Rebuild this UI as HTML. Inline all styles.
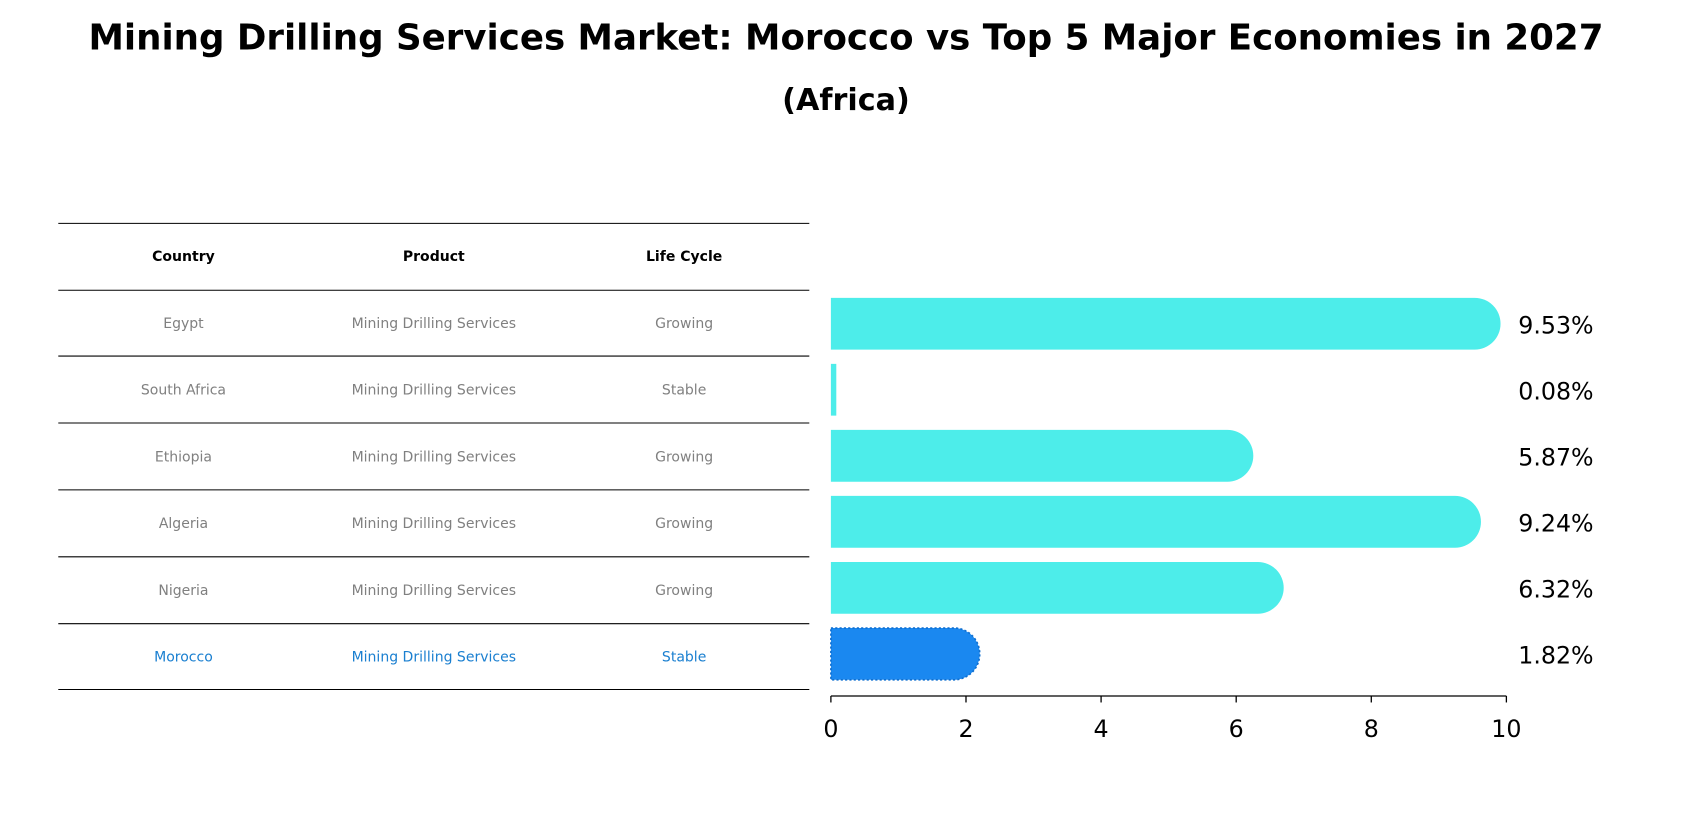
<!DOCTYPE html>
<html><head><meta charset="utf-8"><style>
html,body{margin:0;padding:0;background:#fff;}
svg{display:block;font-family:"DejaVu Sans","Liberation Sans",sans-serif;}
</style></head><body>
<svg id="chart" width="1692" height="823" viewBox="0 0 1568 762.7" xmlns="http://www.w3.org/2000/svg">
<text x="784" y="46" text-anchor="middle" font-size="33" font-weight="bold">Mining Drilling Services Market: Morocco vs Top 5 Major Economies in 2027</text>
<text x="784" y="102" text-anchor="middle" font-size="28" font-weight="bold">(Africa)</text>
<g id="table"></g>
<g id="bars"></g>
<g id="axis"></g>
</svg>
<script>
const countries = ["Egypt","South Africa","Ethiopia","Algeria","Nigeria","Morocco"];
const products = ["Mining Drilling Services","Mining Drilling Services","Mining Drilling Services","Mining Drilling Services","Mining Drilling Services","Mining Drilling Services"];
const lifeCycles = ["Growing","Stable","Growing","Growing","Growing","Stable"];
const values = [9.53,0.08,5.87,9.24,6.32,1.82];
const xTicks = [0,2,4,6,8,10];

const NS="http://www.w3.org/2000/svg";
function mk(tag,attrs,parent){const e=document.createElementNS(NS,tag);for(const k in attrs)e.setAttribute(k,attrs[k]);parent.appendChild(e);return e;}
const x0=770,x1=1396,xMax=10;
const xs=v=>x0+(v/xMax)*(x1-x0);
const rowY=i=>300+i*61.2;
const barH=48;

const table=document.getElementById('table');
const lineYs=[207,269,330,392,454,516,578,639];
lineYs.forEach(y=>{const l=mk('line',{x1:54,x2:750,y1:y,y2:y,stroke:'#000','stroke-width':1},table);

});
const colX=[170,402,634];
["Country","Product","Life Cycle"].forEach((h,j)=>{const t=mk('text',{x:colX[j],y:242,'text-anchor':'middle','font-size':13,'font-weight':'bold'},table);t.textContent=h;

});
countries.forEach((c,i)=>{const col=c==="Morocco"?'#1a7fd0':'#808080';
[c,products[i],lifeCycles[i]].forEach((s,j)=>{const t=mk('text',{x:colX[j],y:(lineYs[i+1]+lineYs[i+2])/2+4.5,'text-anchor':'middle','font-size':13,fill:col},table);t.textContent=s;

});});

const bars=document.getElementById('bars');
values.forEach((v,i)=>{const cy=rowY(i);const isM=countries[i]==="Morocco";const fill=isM?'#1a88f0':'#4dedea';
const xe=xs(v);const r=barH/2;
let d;
if(v>0.5){d=`M${x0},${cy-r} L${xe},${cy-r} A${r},${r} 0 0 1 ${xe},${cy+r} L${x0},${cy+r} Z`;}
else{d=`M${x0},${cy-r} L${xe},${cy-r} L${xe},${cy+r} L${x0},${cy+r} Z`;}
const p=mk('path',{d:d,fill:fill},bars);
if(isM){p.setAttribute('stroke','#0f6fd0');p.setAttribute('stroke-dasharray','2,2');p.setAttribute('stroke-width','1.5');}


const t=mk('text',{x:1407,y:cy+9,'font-size':22},bars);t.textContent=v.toFixed(2)+'%';

});

const axis=document.getElementById('axis');
const al=mk('line',{x1:x0,x2:x1,y1:645,y2:645,stroke:'#000','stroke-width':1.2},axis);


xTicks.forEach(v=>{const tk=mk('line',{x1:xs(v),x2:xs(v),y1:645,y2:651,stroke:'#000','stroke-width':1.2},axis);


const t=mk('text',{x:xs(v),y:683,'text-anchor':'middle','font-size':22},axis);t.textContent=v;

});
</script>
</body></html>
